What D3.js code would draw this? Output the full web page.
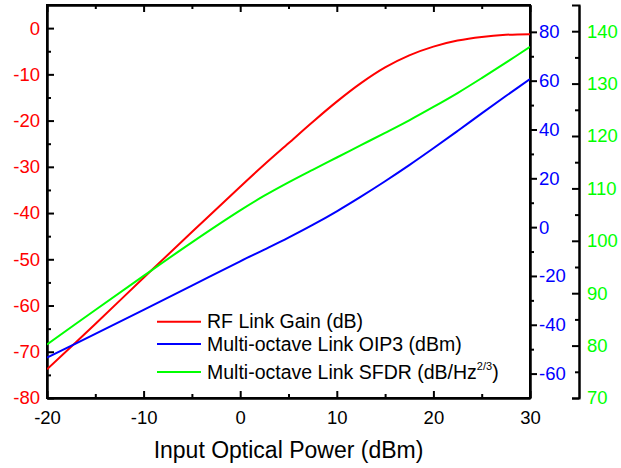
<!DOCTYPE html>
<html>
<head>
<meta charset="utf-8">
<script src="https://cdn.jsdelivr.net/npm/d3@7"></script>
<style>
  body { margin: 0; background: #fff; }
  text { font-family: "Liberation Sans", Arial, sans-serif; }
</style>
</head>
<body>
<svg></svg>
<script>
// data
const inputPower = [-20, -15, -10, -5, 0, 2.5, 5, 7.5, 10, 12.5, 15, 17.5, 20, 22.5, 25, 27.5, 30];
const rfGain = [-73.8, -64.0, -54.0, -44.1, -34.3, -29.5, -24.9, -20.3, -15.9, -11.9, -8.5, -5.9, -4.0, -2.7, -1.9, -1.45, -1.3];
const oip3 = [-53.5, -43.7, -33.9, -24.0, -14.0, -9.2, -4.3, 0.9, 6.5, 12.5, 18.8, 25.4, 32.3, 39.4, 46.6, 53.7, 60.7];
const sfdr = [80.2, 86.8, 93.3, 99.7, 105.8, 108.6, 111.15, 113.55, 115.9, 118.25, 120.6, 123.0, 125.55, 128.2, 131.05, 134.0, 137.0];

const xTicks = [-20, -10, 0, 10, 20, 30];
const xMinor = [-15, -5, 5, 15, 25];
const gainTicks = [-80, -70, -60, -50, -40, -30, -20, -10, 0];
const gainMinor = [-75, -65, -55, -45, -35, -25, -15, -5];
const oipTicks = [-60, -40, -20, 0, 20, 40, 60, 80];
const oipMinor = [-50, -30, -10, 10, 30, 50, 70];
const sfdrTicks = [70, 80, 90, 100, 110, 120, 130, 140];
const sfdrMinor = [75, 85, 95, 105, 115, 125, 135];

const legendNames = ['RF Link Gain (dB)', 'Multi-octave Link OIP3 (dBm)', 'Multi-octave Link SFDR (dB/Hz'];

const width = 621;
const height = 468;
const plotLeft = 47, plotRight = 530, plotTop = 5, plotBottom = 398;
const greenAxisX = 579;
const red = '#ff0000', blue = '#0000ff', green = '#00ff00';

let svg = d3.select('svg').attr('width', width).attr('height', height);

const xScale = d3.scaleLinear().domain([-20, 30]).range([plotLeft, plotRight]);
const gainScale = d3.scaleLinear().domain([-80, 5]).range([plotBottom, plotTop]);
const oipScale = d3.scaleLinear().domain([-70, 91]).range([plotBottom, plotTop]);
const sfdrScale = d3.scaleLinear().domain([70, 145]).range([plotBottom, plotTop]);

// plain hyphen for negatives, like the original
const fmt = d => String(d);

function styleAxis (g, color) {
    g.selectAll('path, line').attr('stroke', '#000').attr('stroke-width', 2);
    g.selectAll('text').attr('fill', color).style('font-size', '18.5px')
        .style('font-family', '"Liberation Sans", Arial, sans-serif');
}

function addAxis (axis, tx, ty, color) {
    let g = svg.append('g')
        .attr('transform', 'translate(' + tx + ',' + ty + ')')
        .call(axis);
    styleAxis(g, color);
    return g;
}

// bottom + top
addAxis(d3.axisBottom(xScale).tickValues(xTicks).tickFormat(fmt).tickSizeInner(-7).tickSizeOuter(0).tickPadding(13), 0, plotBottom, '#000');
addAxis(d3.axisBottom(xScale).tickValues(xMinor).tickSizeInner(-4).tickSizeOuter(0).tickFormat(''), 0, plotBottom, '#000');
addAxis(d3.axisTop(xScale).tickValues(xTicks).tickSizeInner(-7).tickSizeOuter(0).tickFormat(''), 0, plotTop, '#000');
addAxis(d3.axisTop(xScale).tickValues(xMinor).tickSizeInner(-4).tickSizeOuter(0).tickFormat(''), 0, plotTop, '#000');

// left gain axis
addAxis(d3.axisLeft(gainScale).tickValues(gainTicks).tickFormat(fmt).tickSizeInner(-7).tickSizeOuter(0).tickPadding(7), plotLeft, 0, red);
addAxis(d3.axisLeft(gainScale).tickValues(gainMinor).tickSizeInner(-4).tickSizeOuter(0).tickFormat(''), plotLeft, 0, red);

// right OIP3 axis on the frame
addAxis(d3.axisRight(oipScale).tickValues(oipTicks).tickFormat(fmt).tickSizeInner(7).tickSizeOuter(0).tickPadding(2), plotRight, 0, blue);
addAxis(d3.axisRight(oipScale).tickValues(oipMinor).tickSizeInner(4).tickSizeOuter(0).tickFormat(''), plotRight, 0, blue);

// offset SFDR axis
addAxis(d3.axisRight(sfdrScale).tickValues(sfdrTicks).tickFormat(fmt).tickSizeInner(-7).tickSizeOuter(-7).tickPadding(8), greenAxisX, 0, green);
addAxis(d3.axisRight(sfdrScale).tickValues(sfdrMinor).tickSizeInner(-4).tickSizeOuter(0).tickFormat(''), greenAxisX, 0, green);

// frame
svg.append('rect')
    .attr('x', plotLeft).attr('y', plotTop)
    .attr('width', plotRight - plotLeft).attr('height', plotBottom - plotTop)
    .attr('fill', 'none').attr('stroke', '#000').attr('stroke-width', 2);

svg.append('clipPath').attr('id', 'plot')
    .append('rect').attr('x', plotLeft).attr('y', plotTop)
    .attr('width', plotRight - plotLeft).attr('height', plotBottom - plotTop);

const series = [
    { values: rfGain, scale: gainScale, color: red },
    { values: oip3, scale: oipScale, color: blue },
    { values: sfdr, scale: sfdrScale, color: green }
];

series.forEach(function (s) {
    let line = d3.line()
        .x((d, i) => xScale(inputPower[i]))
        .y(d => s.scale(d))
        .curve(d3.curveCatmullRom.alpha(0.5));
    svg.append('path')
        .datum(s.values)
        .attr('clip-path', 'url(#plot)')
        .attr('d', line)
        .attr('fill', 'none')
        .attr('stroke', s.color)
        .attr('stroke-width', 2);
});

// legend
const legendRows = [321.7, 344, 372];
let legend = svg.append('g');
series.forEach(function (s, i) {
    legend.append('line')
        .attr('x1', 157).attr('x2', 201)
        .attr('y1', legendRows[i]).attr('y2', legendRows[i])
        .attr('stroke', s.color).attr('stroke-width', 2);
    let t = legend.append('text')
        .attr('x', 207).attr('y', legendRows[i] + 6.5)
        .style('font-size', '19.5px')
        .text(legendNames[i]);
    if (i === 2) {
        t.append('tspan').attr('dy', -9).style('font-size', '11px').text('2/3');
        t.append('tspan').attr('dy', 9).text(')');
    }
});

// x title
svg.append('text')
    .attr('x', (plotLeft + plotRight) / 2).attr('y', 458)
    .attr('text-anchor', 'middle')
    .style('font-size', '23px')
    .text('Input Optical Power (dBm)');
</script>
</body>
</html>
